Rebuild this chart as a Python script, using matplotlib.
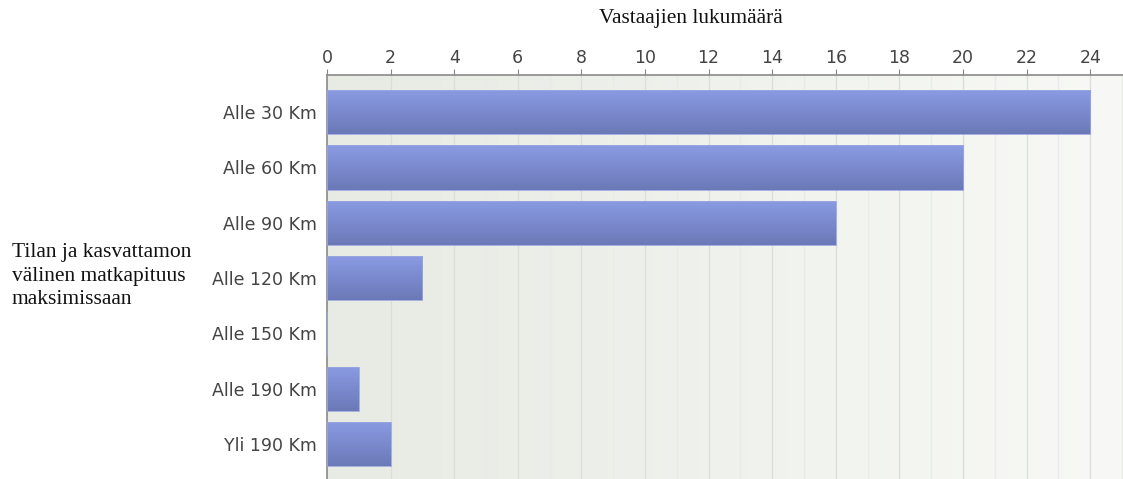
import matplotlib
matplotlib.use("Agg")

import matplotlib.pyplot as plt
import matplotlib.colors as mcolors
import numpy as np

categories = ["Alle 30 Km", "Alle 60 Km", "Alle 90 Km", "Alle 120 Km",
              "Alle 150 Km", "Alle 190 Km", "Yli 190 Km"]
counts = [24, 20, 16, 3, 0, 1, 2]
x_ticks = list(range(0, 25, 2))

title = "Vastaajien lukumäärä"
ylabel = "Tilan ja kasvattamon\nvälinen matkapituus\nmaksimissaan"

fig = plt.figure(figsize=(11.23, 4.79), dpi=100)
ax = fig.add_axes([327 / 1123, 0, 1 - 327 / 1123, 404 / 479])

xmax = 25.03
ax.set_xlim(0, xmax)
ax.set_ylim(6.63, -0.67)

# background gradient, darker on the left
bg = mcolors.LinearSegmentedColormap.from_list("bg", ["#e7ebe3", "#f8f9f6"])
ax.imshow(np.linspace(0, 1, 256).reshape(1, -1), cmap=bg, aspect="auto",
          extent=[0, xmax, 6.63, -0.67], zorder=0)

# grid: major on even values, faint minor on odd
for v in range(1, 26):
    ax.axvline(v, color="#dcdedb" if v % 2 == 0 else "#e9ebe7",
               linewidth=1.0, zorder=1)

# bars with vertical gradient
bar_cmap = mcolors.LinearSegmentedColormap.from_list("bar", ["#8b9be3", "#6b79b8"])
grad = np.linspace(0, 1, 64).reshape(-1, 1)
ypos = np.arange(len(categories))
bars = ax.barh(ypos, counts, height=0.8, color="none", edgecolor="#9aa6e0",
               linewidth=0.6, zorder=3)
for b in bars:
    if b.get_width() <= 0:
        continue
    x0, y0 = b.get_x(), b.get_y()
    im = ax.imshow(grad, cmap=bar_cmap, aspect="auto", zorder=2,
                   extent=[x0, x0 + b.get_width(), y0 + b.get_height(), y0])
    im.set_clip_path(b)

ax.set_xlim(0, xmax)
ax.set_ylim(6.63, -0.67)

ax.xaxis.tick_top()
ax.set_xticks(x_ticks)
ax.tick_params(axis="x", direction="out", length=4, color="#888888",
               labelsize=12.5, labelcolor="#444444", pad=2)
ax.set_yticks(ypos)
ax.set_yticklabels(categories)
ax.tick_params(axis="y", length=0, labelsize=12.5, labelcolor="#444444", pad=7)

for s in ["right", "bottom"]:
    ax.spines[s].set_visible(False)
ax.spines["top"].set_color("#8a8a8a")
ax.spines["left"].set_color("#8a8a8a")
ax.spines["top"].set_linewidth(1.2)
ax.spines["left"].set_linewidth(1.2)

fig.text(691 / 1123, 1 - 18 / 479, title, ha="center", va="center",
         family="Liberation Serif", fontsize=15.4, color="#111111")
fig.text(12 / 1123, 1 - 276 / 479, ylabel, ha="left", va="center",
         family="Liberation Serif", fontsize=15.5, color="#111111",
         linespacing=1.33)

fig.savefig("out.png", dpi=100)
